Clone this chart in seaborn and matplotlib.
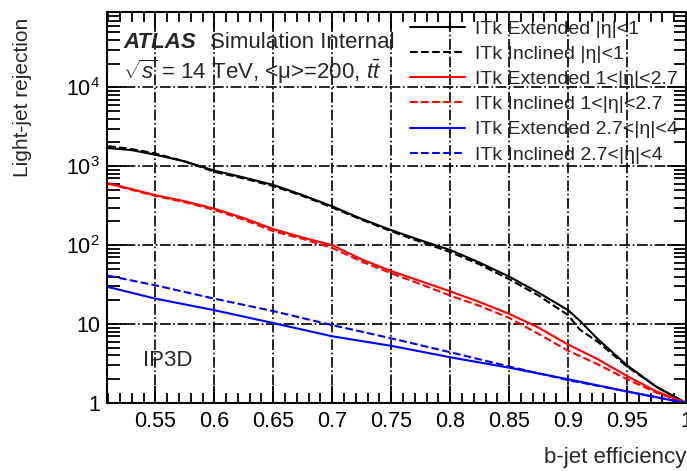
import numpy as np
import pandas as pd
import matplotlib
matplotlib.use('Agg')
import matplotlib.pyplot as plt
import matplotlib.ticker as mticker
import seaborn as sns

# --- DATA ---
eff_fine = [0.51, 0.53, 0.55, 0.575, 0.6, 0.625, 0.65, 0.675, 0.7, 0.725, 0.75,
            0.775, 0.8, 0.825, 0.85, 0.875, 0.9, 0.91, 0.925, 0.95, 0.975, 1.0]
ext_central = [1700, 1600, 1400, 1150, 880, 720, 580, 430, 310, 215, 155,
               115, 87, 60, 40, 25, 15, 11, 6.5, 3.0, 1.6, 1.0]
inc_central = [1800, 1650, 1450, 1150, 850, 700, 560, 420, 300, 210, 150,
               110, 82, 57, 37, 23, 13, 8.5, 6.0, 2.9, 1.6, 1.0]

eff_mid = [0.51, 0.55, 0.575, 0.6, 0.625, 0.65, 0.675, 0.7, 0.725, 0.75,
           0.775, 0.8, 0.825, 0.85, 0.875, 0.9, 0.925, 0.95, 0.975, 1.0]
ext_mid = [610, 430, 360, 290, 220, 160, 125, 100, 66, 47,
           35, 26, 19, 13.5, 9, 5.5, 3.6, 2.2, 1.4, 1.0]
inc_mid = [600, 420, 350, 280, 210, 150, 120, 92, 62, 44,
           32, 23, 17, 12, 7.5, 4.6, 3.1, 2.0, 1.35, 1.0]

eff_fwd = [0.51, 0.55, 0.6, 0.65, 0.7, 0.75, 0.8, 0.85, 0.9, 0.95, 1.0]
ext_fwd = [29.5, 21, 15, 10.3, 7.0, 5.3, 3.8, 2.8, 2.0, 1.4, 1.0]
inc_fwd = [41, 31, 21, 14.6, 9.7, 6.6, 4.4, 2.9, 1.95, 1.4, 1.0]

labels = ['ITk Extended |η|<1', 'ITk Inclined |η|<1',
          'ITk Extended 1<|η|<2.7', 'ITk Inclined 1<|η|<2.7',
          'ITk Extended 2.7<|η|<4', 'ITk Inclined 2.7<|η|<4']

x_ticks = [0.55, 0.6, 0.65, 0.7, 0.75, 0.8, 0.85, 0.9, 0.95, 1.0]
x_ticklabels = ['0.55', '0.6', '0.65', '0.7', '0.75', '0.8', '0.85', '0.9', '0.95', '1']
y_ticks = [1, 10, 100, 1000, 10000]
y_ticklabels = ['1', '10', r'$10^2$', r'$10^3$', r'$10^4$']

sns.set_style('ticks')
plt.rcParams['font.family'] = ['Liberation Sans', 'DejaVu Sans']
plt.rcParams['mathtext.fontset'] = 'custom'
plt.rcParams['mathtext.rm'] = 'Liberation Sans'
plt.rcParams['mathtext.it'] = 'Liberation Sans:italic'
plt.rcParams['mathtext.bf'] = 'Liberation Sans:bold'

fig = plt.figure(figsize=(6.87, 4.71), dpi=100)
ax = fig.add_axes([107 / 687, 1 - 403 / 471, 579 / 687, 391 / 471])

series = [
    (eff_fine, ext_central, 'black', '-'),
    (eff_fine, inc_central, 'black', '--'),
    (eff_mid, ext_mid, 'red', '-'),
    (eff_mid, inc_mid, 'red', '--'),
    (eff_fwd, ext_fwd, 'blue', '-'),
    (eff_fwd, inc_fwd, 'blue', '--'),
]
for (xs, ys, col, ls), lab in zip(series, labels):
    df = pd.DataFrame({'eff': xs, 'rej': ys})
    sns.lineplot(data=df, x='eff', y='rej', color=col, linestyle=ls,
                 linewidth=1.5, label=lab, ax=ax)

ax.set_yscale('log')
ax.set_xlim(0.509, 1.0)
ax.set_ylim(1, 9e4)

ax.set_xticks(x_ticks)
ax.set_xticklabels(x_ticklabels)
ax.xaxis.set_minor_locator(mticker.MultipleLocator(0.01))
ax.set_yticks(y_ticks)
ax.set_yticklabels(y_ticklabels)
ax.yaxis.set_minor_locator(mticker.LogLocator(base=10, subs=np.arange(2, 10)))
ax.yaxis.set_minor_formatter(mticker.NullFormatter())

ax.tick_params(axis='both', which='both', direction='in', top=True, right=True,
               labelsize=15.5, colors='black', width=1.3)
ax.tick_params(axis='x', which='major', length=12, pad=6)
ax.tick_params(axis='x', which='minor', length=7)
ax.tick_params(axis='y', which='major', length=14, pad=5)
ax.tick_params(axis='y', which='minor', length=9)
for s in ax.spines.values():
    s.set_linewidth(1.5)
    s.set_color('black')

ax.grid(True, which='major', color='black', linestyle='-.', linewidth=1.2)

ax.set_xlabel('')
ax.set_ylabel('')
fig.text(686 / 687, 1 - 457 / 471, 'b-jet efficiency', ha='right', va='center', fontsize=16)
fig.text(23 / 687, 1 - 97 / 471, 'Light-jet rejection', ha='center', va='center',
         rotation=90, fontsize=15)

ax.text(16 / 579, 1 - 31 / 391, 'ATLAS', transform=ax.transAxes, fontsize=16,
        fontweight='bold', fontstyle='italic', va='center')
ax.text(103 / 579, 1 - 31 / 391, 'Simulation Internal', transform=ax.transAxes,
        fontsize=16, va='center')
ax.text(16 / 579, 1 - 60 / 391, r'$\sqrt{s}$ = 14 TeV, <μ>=200, $t\bar{t}$',
        transform=ax.transAxes, fontsize=16, va='center')
ax.text(36 / 579, 1 - 348 / 391, 'IP3D', transform=ax.transAxes, fontsize=16, va='center')

ax.legend(loc='upper left', bbox_to_anchor=(410 / 687, 1 - 20 / 471),
          bbox_transform=fig.transFigure, frameon=False, fontsize=14,
          handlelength=2.85, handletextpad=0.5, labelspacing=0.39, borderpad=0,
          borderaxespad=0)

fig.savefig('out.png', dpi=100)
